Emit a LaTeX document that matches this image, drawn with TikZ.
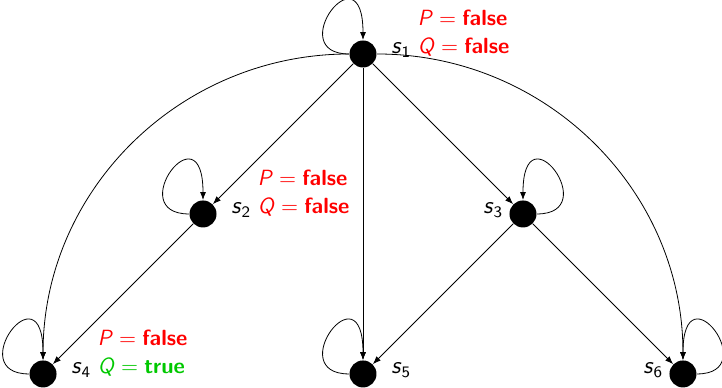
\documentclass[tikz,border=0pt]{standalone}
\usepackage{amsmath}
\usepackage{tikz}
\usetikzlibrary{arrows.meta, positioning}
\usepackage{xcolor}
\renewcommand{\familydefault}{\sfdefault}
\definecolor{truegreen}{RGB}{0,200,0}
\newcommand{\stname}[1]{\textit{s}$_{\textsf{#1}}$}
\newcommand{\assign}[2]{\textit{#1}${}={}$\textbf{#2}}

\begin{document}
\begin{tikzpicture}[x=80pt, y=80pt, >={Latex[length=4pt,width=3pt]},
		state/.style={circle, fill=black, inner sep=0pt, minimum size=13.5pt},
		sname/.style={inner sep=0pt, font=\fontsize{12}{14}\selectfont},
		val/.style={inner sep=0pt, text=red, font=\fontsize{11}{13}\selectfont},
		selfloop/.style={out distance=33.5pt, in distance=47pt}]
		\useasboundingbox (-2.269,-2.0875) rectangle (2.244,0.3375);
		
		% 状态
		\node[state] (s1) at (0,0) {};
		\node[state] (s2) at (-1,-1) {};
		\node[state] (s3) at (1,-1) {};
		\node[state] (s4) at (-2,-2) {};
		\node[state] (s5) at (0,-2) {};
		\node[state] (s6) at (2,-2) {};
		
		% 状态名
		\node[sname, right=7pt of s1.east, anchor=base west] (l1) {\stname{1}};
		\node[sname, right=7pt of s2.east, anchor=base west] (l2) {\stname{2}};
		\node[sname, left=2.75pt of s3.west, anchor=base east] (l3) {\stname{3}};
		\node[sname, right=7pt of s4.east, anchor=base west] (l4) {\stname{4}};
		\node[sname, right=7pt of s5.east, anchor=base west] (l5) {\stname{5}};
		\node[sname, left=2.75pt of s6.west, anchor=base east] (l6) {\stname{6}};
		
		% 取值
		\node[val, right=3pt of l1.base east, anchor=base west] (q1) {\assign{Q}{false}};
		\node[val, above=14pt of q1.base west, anchor=base west] (p1) {\assign{P}{false}};
		\node[val, right=3pt of l2.base east, anchor=base west] (q2) {\assign{Q}{false}};
		\node[val, above=14pt of q2.base west, anchor=base west] (p2) {\assign{P}{false}};
		\node[val, text=truegreen, right=3pt of l4.base east, anchor=base west] (q4) {\assign{Q}{true}};
		\node[val, above=14pt of q4.base west, anchor=base west] (p4) {\assign{P}{false}};
		
		% 转移
		\draw[->] (s1) -- (s2);
		\draw[->] (s1) -- (s3);
		\draw[->] (s1) -- (s5);
		\draw[->] (s2) -- (s4);
		\draw[->] (s3) -- (s5);
		\draw[->] (s3) -- (s6);
		\draw[->] (s1) to[out=180, in=90] (s4);
		\draw[->] (s1) to[out=0, in=90] (s6);
		
		% 自环
		\draw[->] (s1) to[selfloop, out=180, in=90] (s1);
		\draw[->] (s2) to[selfloop, out=180, in=90] (s2);
		\draw[->] (s3) to[selfloop, out=0, in=90] (s3);
		\draw[->] (s4) to[selfloop, out=180, in=90] (s4);
		\draw[->] (s5) to[selfloop, out=180, in=90] (s5);
		\draw[->] (s6) to[selfloop, out=0, in=90] (s6);
	\end{tikzpicture}
\end{document}
